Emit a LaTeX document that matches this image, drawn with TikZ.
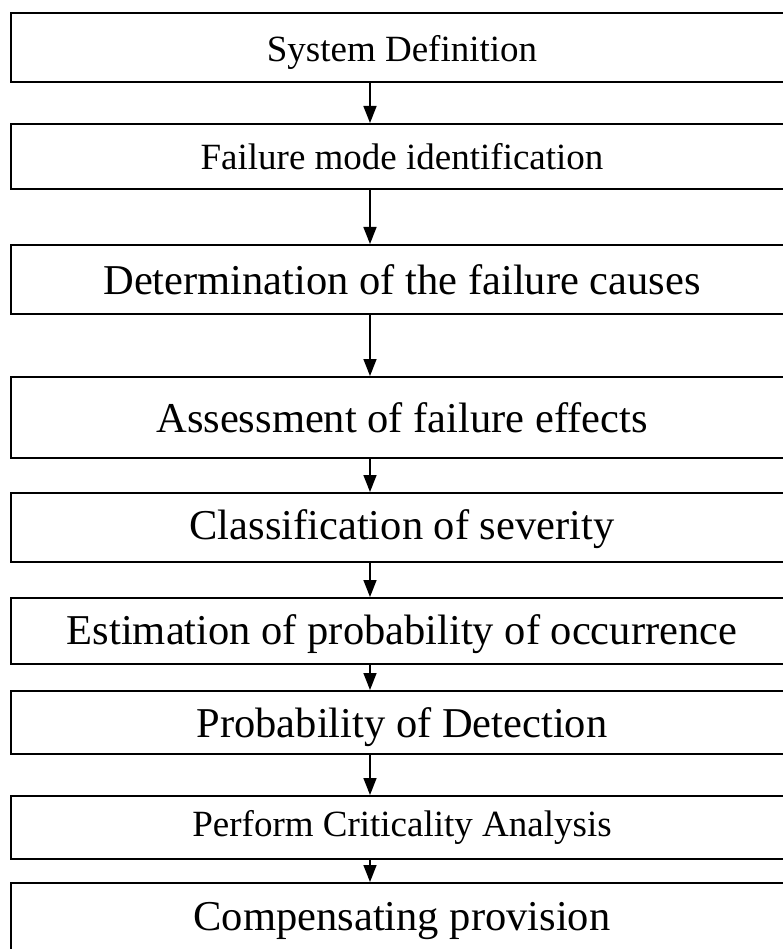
\documentclass[tikz,border=0pt]{standalone}
\usepackage{fontspec}
\setmainfont{Liberation Serif}
\usetikzlibrary{arrows.meta}
\newcommand{\lowertxt}[2]{\raisebox{-#1}[\height][\depth]{#2}}
\begin{document}
\begin{tikzpicture}[x=1pt,y=-1pt,
  stepbox/.style={draw=black, line width=2pt, rectangle, minimum width=782pt, inner sep=0pt, anchor=north, font=\fontsize{42.5}{46}\selectfont},
  smalltxt/.style={font=\fontsize{37}{40}\selectfont},
  arr/.style={line width=1.5pt, -{Triangle[length=17pt,width=13pt]}}]
\useasboundingbox (0,0) rectangle (783,949);
\clip (0,0) rectangle (783,949);
\fill[white] (0,0) rectangle (783,949);
\coordinate (ax) at (370,0);
\node[stepbox, smalltxt, minimum height=69pt] (b1) at (402,12) {\lowertxt{5pt}{System Definition}};
\node[stepbox, smalltxt, minimum height=65pt] (b2) at (402,123) {Failure mode identification};
\node[stepbox, minimum height=69pt] (b3) at (402,244) {Determination of the failure causes};
\node[stepbox, minimum height=81pt] (b4) at (402,376) {Assessment of failure effects};
\node[stepbox, minimum height=69pt] (b5) at (402,492) {\lowertxt{2pt}{Classification of severity}};
\node[stepbox, minimum height=66pt] (b6) at (402,597) {\lowertxt{3pt}{Estimation of probability of occurrence}};
\node[stepbox, minimum height=63pt] (b7) at (402,690) {\lowertxt{5pt}{Probability of Detection}};
\node[stepbox, smalltxt, minimum height=63pt] (b8) at (402,795) {Perform Criticality Analysis};
\node[stepbox, minimum height=76pt] (b9) at (402,882) {Compensating provision};
\foreach \a/\b in {b1/b2,b2/b3,b3/b4,b4/b5,b5/b6,b6/b7,b7/b8,b8/b9}
  \draw[arr] (\a.south -| ax) -- (\b.north -| ax);
\end{tikzpicture}
\end{document}
